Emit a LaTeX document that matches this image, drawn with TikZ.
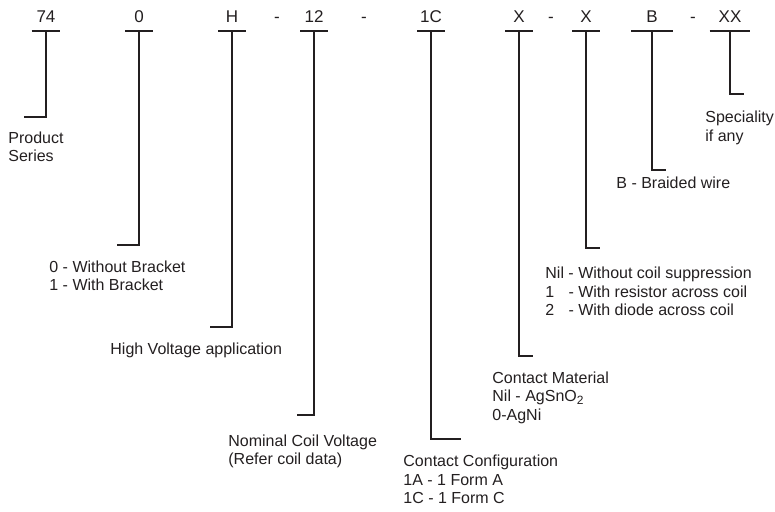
\documentclass[tikz,border=0pt]{standalone}
\usepackage{fontspec}
\setmainfont{Liberation Sans}
\definecolor{ink}{RGB}{35,31,32}

\begin{document}
\begin{tikzpicture}[x = 0.5pt, y = -0.5pt]
\tikzstyle{CodeStyle}=[anchor = south,
                       inner xsep = 0pt,
                       inner ysep = 4pt,
                       text depth = 0pt,
                       text = ink,
                       font = \fontsize{8.5}{10}\selectfont]
\tikzstyle{LabelStyle}=[anchor = base west,
                        inner sep = 0pt,
                        align = left,
                        text = ink,
                        font = \fontsize{8}{9.25}\selectfont]
\tikzstyle{LineStyle}=[draw = ink, line width = 0.55pt]
\useasboundingbox (0,0) rectangle (775,511);
\node[CodeStyle, minimum width = 14pt] (c0) at (46,31) {74};
\node[CodeStyle, minimum width = 13.5pt] (c1) at (139,31) {0};
\node[CodeStyle, minimum width = 13.5pt] (c2) at (232,31) {H};
\node[CodeStyle] (d0) at (277,31) {-};
\node[CodeStyle, minimum width = 13.5pt] (c3) at (314,31) {12};
\node[CodeStyle] (d1) at (364,31) {-};
\node[CodeStyle, minimum width = 13.5pt] (c4) at (431,31) {1C};
\node[CodeStyle, minimum width = 13.5pt] (c5) at (519,31) {X};
\node[CodeStyle] (d2) at (551,31) {-};
\node[CodeStyle, minimum width = 13.5pt] (c6) at (586,31) {X};
\node[CodeStyle, minimum width = 20.5pt] (c7) at (652,31) {B};
\node[CodeStyle] (d3) at (693,31) {-};
\node[CodeStyle, minimum width = 20pt] (c8) at (730,31) {XX};
\coordinate (e0) at (24,117);
\coordinate (e1) at (117,245);
\coordinate (e2) at (210,327);
\coordinate (e3) at (297,415);
\coordinate (e4) at (461,439);
\coordinate (e5) at (533,356);
\coordinate (e6) at (600,248);
\coordinate (e7) at (666,170);
\coordinate (e8) at (744,94);
\node[LabelStyle] (l0) at (8,161.5) {Product\\Series};
\node[LabelStyle] (l1) at (49,290.5) {0 - Without Bracket\\1 - With Bracket};
\node[LabelStyle] (l2) at (110,354) {High Voltage application};
\node[LabelStyle] (l3) at (228,464.5) {Nominal Coil Voltage\\(Refer coil data)};
\node[LabelStyle] (l4) at (403,503.5) {Contact Configuration\\1A - 1 Form A\\1C - 1 Form C};
\node[LabelStyle] (l5) at (492,420) {Contact Material\\Nil - AgSnO\textsubscript{2}\\0-AgNi};
\node[LabelStyle] (l6) at (545,315.5) {Nil - Without coil suppression\\\rlap{1}\phantom{Nil} - With resistor across coil\\\rlap{2}\phantom{Nil} - With diode across coil};
\node[LabelStyle] (l7) at (616,188) {B - Braided wire};
\node[LabelStyle] (l8) at (705,141) {Speciality\\if any};
\draw[LineStyle] (c0.south west) -- (c0.south east);
\draw[LineStyle] (c0.south) |- (e0);
\draw[LineStyle] (c1.south west) -- (c1.south east);
\draw[LineStyle] (c1.south) |- (e1);
\draw[LineStyle] (c2.south west) -- (c2.south east);
\draw[LineStyle] (c2.south) |- (e2);
\draw[LineStyle] (c3.south west) -- (c3.south east);
\draw[LineStyle] (c3.south) |- (e3);
\draw[LineStyle] (c4.south west) -- (c4.south east);
\draw[LineStyle] (c4.south) |- (e4);
\draw[LineStyle] (c5.south west) -- (c5.south east);
\draw[LineStyle] (c5.south) |- (e5);
\draw[LineStyle] (c6.south west) -- (c6.south east);
\draw[LineStyle] (c6.south) |- (e6);
\draw[LineStyle] (c7.south west) -- (c7.south east);
\draw[LineStyle] (c7.south) |- (e7);
\draw[LineStyle] (c8.south west) -- (c8.south east);
\draw[LineStyle] (c8.south) |- (e8);
\end{tikzpicture}
\end{document}
